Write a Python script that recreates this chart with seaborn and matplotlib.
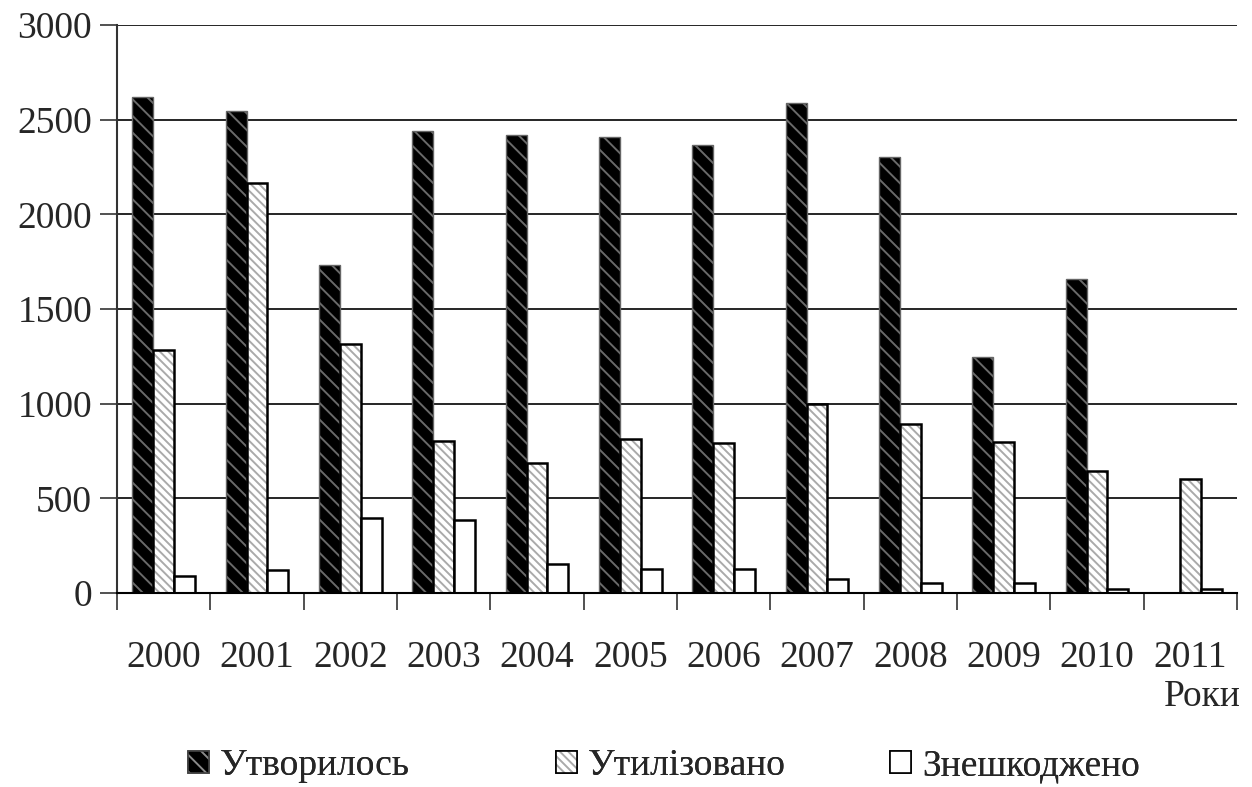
import numpy as np
import pandas as pd
import matplotlib
matplotlib.use("Agg")
import matplotlib.pyplot as plt
from matplotlib.colors import to_rgba
from matplotlib.patches import Rectangle
import seaborn as sns

years = ["2000", "2001", "2002", "2003", "2004", "2005", "2006", "2007", "2008", "2009", "2010", "2011"]
series_names = ["Утворилось", "Утилізовано", "Знешкоджено"]
formed = [2620, 2546, 1734, 2442, 2422, 2409, 2367, 2587, 2305, 1245, 1657, np.nan]
utilized = [1283, 2168, 1314, 803, 686, 812, 790, 1000, 895, 797, 644, 600]
neutralized = [90, 120, 395, 385, 155, 125, 125, 75, 55, 55, 20, 20]
y_ticks = [0, 500, 1000, 1500, 2000, 2500, 3000]
x_axis_title = "Роки"

df = pd.DataFrame({
    "year": years * 3,
    "series": [series_names[0]] * 12 + [series_names[1]] * 12 + [series_names[2]] * 12,
    "value": formed + utilized + neutralized,
})

sns.set_theme(style="white")
plt.rcParams["font.family"] = ["Liberation Serif", "DejaVu Serif"]
plt.rcParams["hatch.linewidth"] = 1.4

FS = 27

fig = plt.figure(figsize=(12.52, 7.87), dpi=100)
ax = fig.add_axes([0.0935, 0.2465, 0.8945, 0.7215])

palette = {series_names[0]: "black", series_names[1]: "white", series_names[2]: "white"}
sns.barplot(data=df, x="year", y="value", hue="series", hue_order=series_names,
            order=years, palette=palette, width=0.67, gap=0, ax=ax,
            errorbar=None, legend=False, saturation=1)

styles = [
    dict(face="black", edge="#666666", hatch="\\\\", hcol="#6a6a6a", lw=1.0),
    dict(face="white", edge="black", hatch="\\\\\\\\", hcol="#aaaaaa", lw=1.8),
    dict(face="white", edge="black", hatch=None, hcol="black", lw=1.8),
]

def set_hcol(p, c):
    try:
        p.set_hatchcolor(c)
    except AttributeError:
        p._hatch_color = to_rgba(c)

for cont, s in zip(ax.containers, styles):
    for p in cont.patches:
        p.set_facecolor(s["face"])
        p.set_edgecolor(s["edge"])
        p.set_linewidth(s["lw"])
        if s["hatch"]:
            p.set_hatch(s["hatch"])
            set_hcol(p, s["hcol"])

ax.set_ylim(0, 3000)
ax.set_xlim(-0.5, len(years) - 0.5)
ax.set_yticks(y_ticks)
ax.set_yticklabels([str(v) for v in y_ticks], fontsize=FS)
ax.yaxis.grid(True, color="black", linewidth=1.2)
ax.set_axisbelow(True)
ax.tick_params(axis="y", which="major", direction="out", length=12, width=1.2,
               color="#333333", pad=6, left=True)

ax.set_xticks(np.arange(len(years) + 1) - 0.5)
ax.set_xticklabels([])
ax.set_xticks(np.arange(len(years)), minor=True)
ax.set_xticklabels(years, minor=True, fontsize=FS)
ax.tick_params(axis="x", which="major", direction="out", length=12, width=1.2,
               color="#333333", bottom=True)
ax.tick_params(axis="x", which="minor", length=0, pad=34)
ax.set_xlabel("")
ax.set_ylabel("")

for side in ["top", "right"]:
    ax.spines[side].set_visible(False)
ax.spines["left"].set_color("#333333")
ax.spines["left"].set_linewidth(1.5)
ax.spines["bottom"].set_color("black")
ax.spines["bottom"].set_linewidth(1.5)

fig.text(0.991, 1 - 697 / 787, x_axis_title, ha="right", va="center", fontsize=FS)

legend_x = [188, 556, 890]
for s, name, lx in zip(styles, series_names, legend_x):
    r = Rectangle((0, 0), 1, 1, facecolor=s["face"],
                  edgecolor="#444444" if s["face"] == "black" else "black",
                  linewidth=1.2, hatch=s["hatch"], label=name)
    if s["hatch"]:
        set_hcol(r, "#8a8a8a" if s["face"] == "black" else s["hcol"])
    leg = fig.legend(handles=[r], labels=[name], loc="center left",
                     bbox_to_anchor=(lx / 1252, 1 - 766 / 787),
                     frameon=False, fontsize=FS, handlelength=0.55, handleheight=0.55,
                     handletextpad=0.3, borderpad=0, borderaxespad=0)
    fig.add_artist(leg)

fig.savefig("out.png", dpi=100)
